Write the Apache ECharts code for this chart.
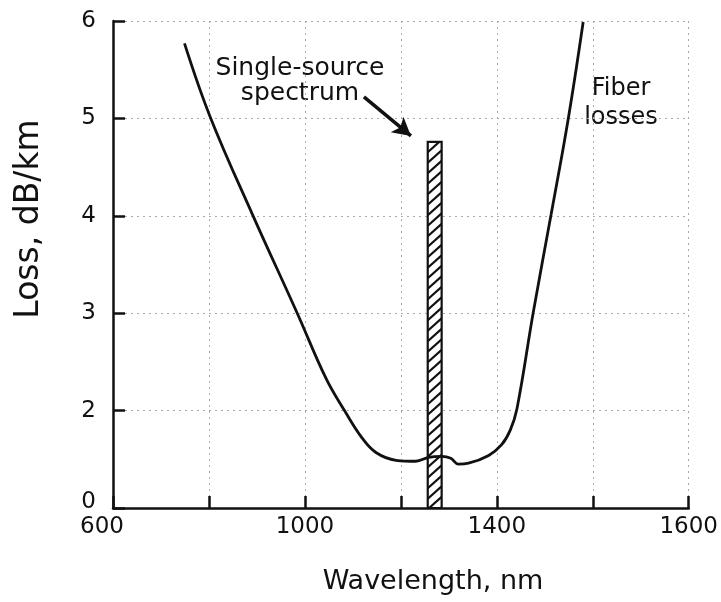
<!DOCTYPE html>
<html>
<head>
<meta charset="utf-8">
<script src="https://cdn.jsdelivr.net/npm/echarts@6/dist/echarts.min.js"></script>
<style>
  html, body { margin: 0; padding: 0; background: #fff; }
  #chart { width: 721px; height: 602px; }
</style>
</head>
<body>
<div id="chart"></div>
<script>
// fiber loss curve (nm, dB/km)
const lossWave = [749, 803, 891, 984, 1044, 1085, 1119, 1148, 1190, 1231, 1258, 1285, 1304, 1320, 1341, 1383, 1410, 1428, 1442, 1476, 1513, 1549, 1580]
const lossValue = [5.77, 5.01, 4.01, 3.00, 2.33, 1.98, 1.72, 1.57, 1.49, 1.48, 1.52, 1.53, 1.51, 1.45, 1.46, 1.54, 1.65, 1.80, 2.02, 3.01, 4.01, 5.00, 5.99]

// source spectrum bar: [from nm, to nm, bottom, top]
const spectrumBar = [1256, 1285, 1, 4.76]

// arrow from the label to the bar top
const arrowFrom = [1123, 5.22]
const arrowTo = [1221, 4.82]

// axis ticks and the labels printed on them
const xTickValues = [600, 800, 1000, 1200, 1400, 1600, 1800]
const xTickLabels = ['600', '', '1000', '', '1400', '', '1600']
const yTickValues = [1, 2, 3, 4, 5, 6]
const yTickLabels = ['0', '2', '3', '4', '5', '6']

const fontName = 'DejaVu Sans'
const ink = '#111'

const curveData = lossWave.map((w, i) => [w, lossValue[i]])

// hatched rectangle for the spectrum
const renderSpectrum = (params, api) => {
    const p0 = api.coord([api.value(0), api.value(2)])
    const p1 = api.coord([api.value(1), api.value(3)])
    const x = p0[0]; const y = p1[1]
    const w = p1[0] - p0[0]; const h = p0[1] - p1[1]
    const step = 10.5
    const rise = w * 0.9
    const lines = []
    for (let yy = y; yy < y + h + rise; yy += step) {
        lines.push({
            type: 'line',
            shape: { x1: x, y1: yy, x2: x + w, y2: yy - rise },
            style: { stroke: ink, lineWidth: 2.2 }
        })
    }
    return {
        type: 'group',
        children: [
            { type: 'rect', shape: { x, y, width: w, height: h }, style: { fill: '#fff', stroke: null } },
            { type: 'group', children: lines, clipPath: { type: 'rect', shape: { x, y, width: w, height: h } } },
            { type: 'rect', shape: { x, y, width: w, height: h }, style: { fill: null, stroke: ink, lineWidth: 2.2 } }
        ]
    }
}

const dom = document.getElementById('chart')
const myChart = echarts.init(dom, null, { renderer: 'canvas' })

const option = {
    backgroundColor: '#fff',
    animation: false,
    grid: { left: 113, right: 30, top: 21, bottom: 94, containLabel: false },
    xAxis: {
        type: 'value',
        min: 600,
        max: 1800,
        interval: 200,
        axisLine: { show: true, onZero: false, lineStyle: { color: ink, width: 2.5 } },
        axisTick: { show: true, inside: true, length: 12, lineStyle: { color: ink, width: 2.5 } },
        axisLabel: {
            show: true,
            showMinLabel: true,
            showMaxLabel: true,
            margin: 8,
            color: ink,
            fontFamily: fontName,
            fontSize: 23,
            formatter: (v) => {
                const label = xTickLabels[xTickValues.indexOf(v)] || ''
                return v === xTickValues[0] ? `{first|${label}}` : label
            },
            rich: {
                first: { fontFamily: fontName, fontSize: 23, color: ink, padding: [0, 22, 0, 0] }
            }
        },
        splitLine: { show: true, lineStyle: { color: '#aaa', width: 1, type: [2, 4] } }
    },
    yAxis: {
        type: 'value',
        min: 1,
        max: 6,
        interval: 1,
        axisLine: { show: true, onZero: false, lineStyle: { color: ink, width: 2.5 } },
        axisTick: { show: true, inside: true, length: 12, lineStyle: { color: ink, width: 2.5 } },
        axisLabel: {
            show: true,
            margin: 17,
            color: ink,
            fontFamily: fontName,
            fontSize: 23,
            formatter: (v) => {
                const label = yTickLabels[yTickValues.indexOf(v)] || ''
                return v === yTickValues[0] ? `{first|${label}}` : label
            },
            rich: {
                first: { fontFamily: fontName, fontSize: 23, color: ink, padding: [0, 0, 12, 0] }
            }
        },
        splitLine: { show: true, lineStyle: { color: '#aaa', width: 1, type: [2, 4] } }
    },
    series: [
        {
            type: 'custom',
            name: 'spectrum',
            renderItem: renderSpectrum,
            encode: { x: [0, 1], y: [2, 3] },
            data: [spectrumBar],
            z: 2,
            silent: true
        },
        {
            type: 'line',
            name: 'Fiber losses',
            data: curveData,
            smooth: 0.4,
            showSymbol: false,
            lineStyle: { color: ink, width: 2.8 },
            z: 3,
            silent: true,
            markLine: {
                silent: true,
                animation: false,
                symbolSize: [15, 18],
                label: { show: false },
                lineStyle: { color: ink, width: 3.5, type: 'solid' },
                data: [[
                    { coord: arrowFrom, symbol: 'none' },
                    { coord: arrowTo, symbol: 'arrow' }
                ]]
            }
        }
    ],
    graphic: [
        {
            type: 'text',
            x: 300, y: 81,
            style: {
                text: 'Single-source\nspectrum',
                font: `25px "${fontName}"`,
                fill: ink,
                align: 'center',
                verticalAlign: 'middle',
                lineHeight: 25
            }
        },
        {
            type: 'text',
            x: 621, y: 103,
            style: {
                text: 'Fiber\nlosses',
                font: `24px "${fontName}"`,
                fill: ink,
                align: 'center',
                verticalAlign: 'middle',
                lineHeight: 29
            }
        },
        {
            type: 'text',
            x: 29, y: 219,
            rotation: Math.PI / 2,
            style: {
                text: 'Loss, dB/km',
                font: `33px "${fontName}"`,
                fill: ink,
                align: 'center',
                verticalAlign: 'middle'
            }
        },
        {
            type: 'text',
            x: 433, y: 582,
            style: {
                text: 'Wavelength, nm',
                font: `27px "${fontName}"`,
                fill: ink,
                align: 'center',
                verticalAlign: 'middle'
            }
        }
    ]
}

myChart.setOption(option)
</script>
</body>
</html>
